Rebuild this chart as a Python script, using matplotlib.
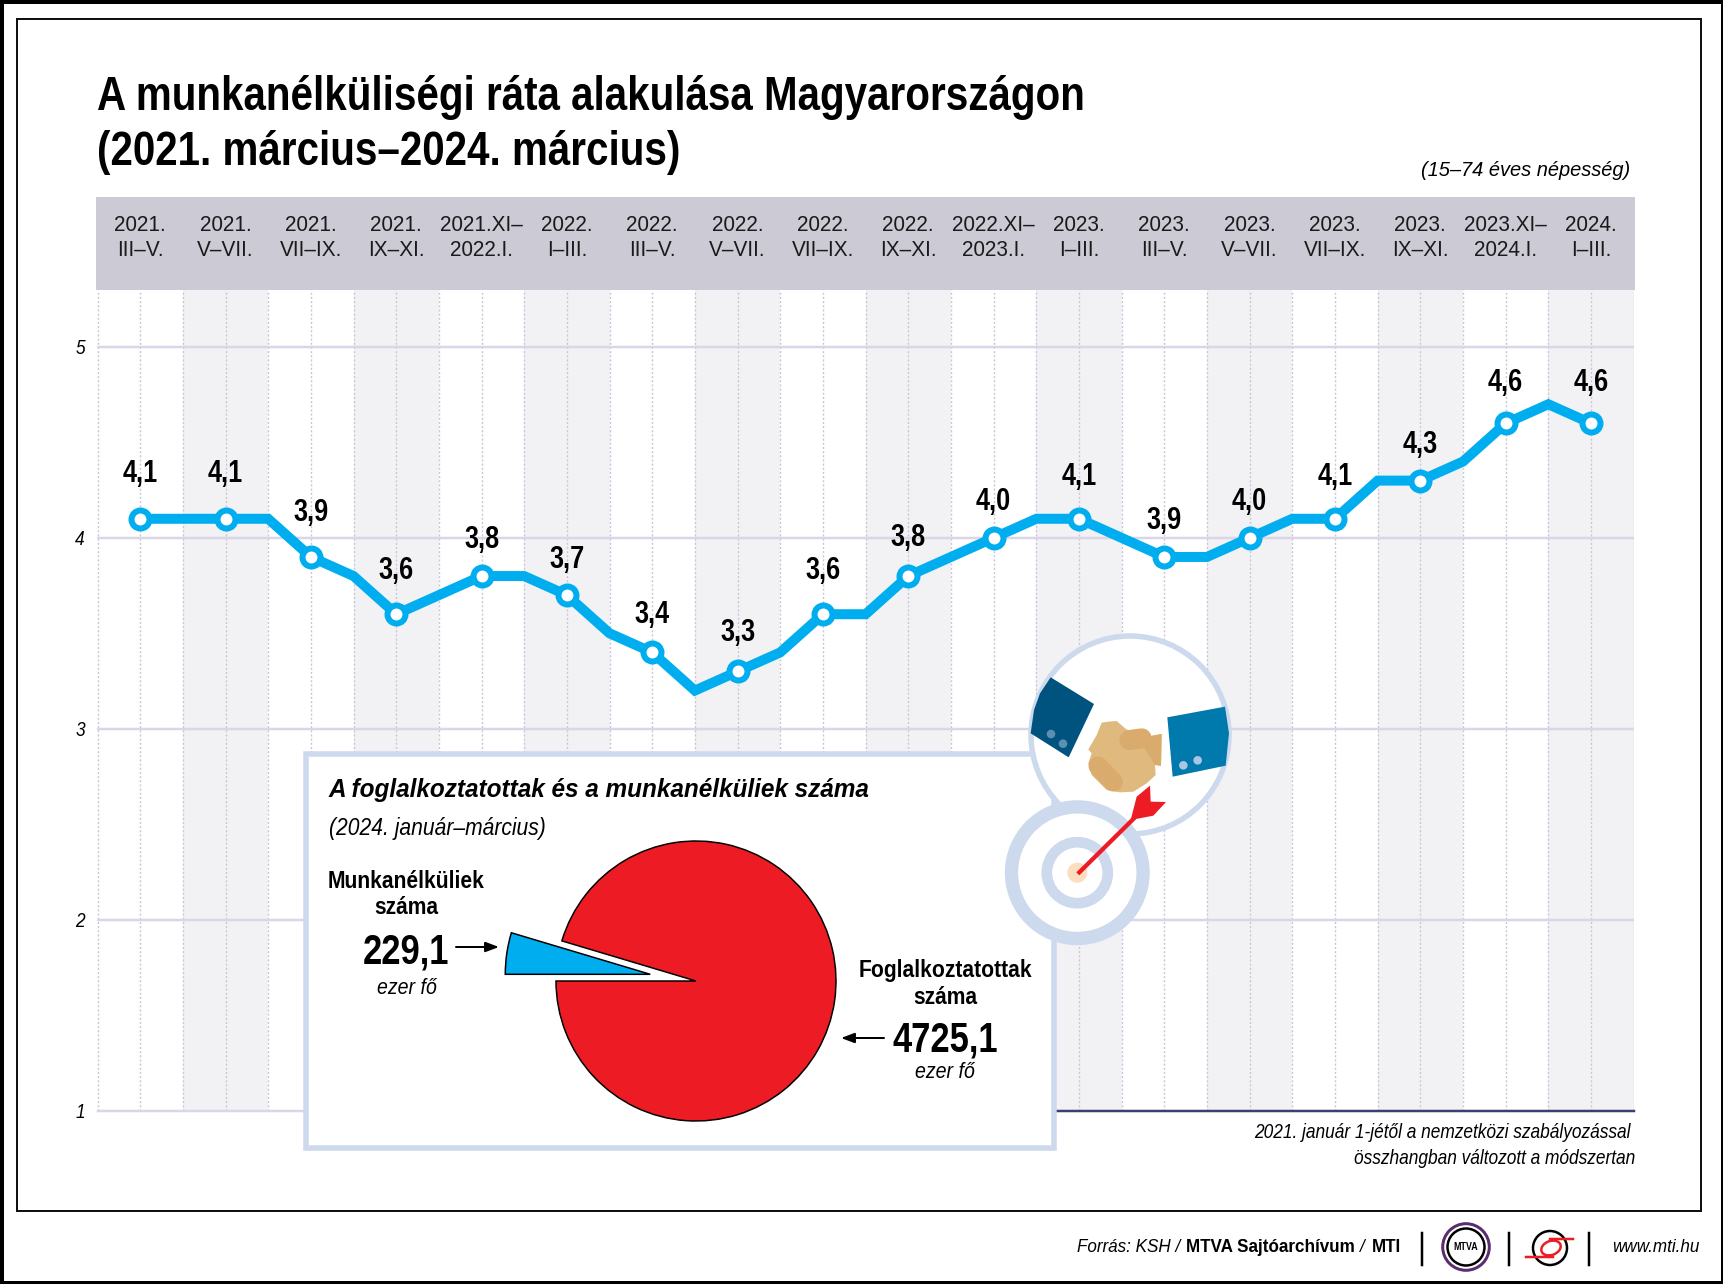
import os
import tempfile
import matplotlib
matplotlib.use('Agg')
import matplotlib.pyplot as plt
from matplotlib import font_manager as fm
from matplotlib.patches import Rectangle, Circle, Polygon, Ellipse
from fontTools.ttLib import TTFont
import numpy as np

# adatok
rate = [4.1, 4.1, 4.1, 4.1, 3.9, 3.8, 3.6, 3.7, 3.8, 3.8, 3.7, 3.5, 3.4, 3.2, 3.3, 3.4, 3.6, 3.6,
        3.8, 3.9, 4.0, 4.1, 4.1, 4.0, 3.9, 3.9, 4.0, 4.1, 4.1, 4.3, 4.3, 4.4, 4.6, 4.7, 4.6]
periods = ['2021.\nIII–V.', '2021.\nV–VII.', '2021.\nVII–IX.', '2021.\nIX–XI.', '2021.XI–\n2022.I.',
           '2022.\nI–III.', '2022.\nIII–V.', '2022.\nV–VII.', '2022.\nVII–IX.', '2022.\nIX–XI.',
           '2022.XI–\n2023.I.', '2023.\nI–III.', '2023.\nIII–V.', '2023.\nV–VII.', '2023.\nVII–IX.',
           '2023.\nIX–XI.', '2023.XI–\n2024.I.', '2024.\nI–III.']
period_rate = [4.1, 4.1, 3.9, 3.6, 3.8, 3.7, 3.4, 3.3, 3.6, 3.8, 4.0, 4.1, 3.9, 4.0, 4.1, 4.3, 4.6, 4.6]
yticks = [1, 2, 3, 4, 5]
pie_values = [229.1, 4725.1]
pie_labels = ['229,1', '4725,1']

W, H = 1724, 1284
C_LINE = '#00AEEF'
C_RED = '#ED1C24'
C_RING = '#CDD9EC'
C_GRID = '#DAD6E8'


# a Helvetica Narrow-hoz keskenyített Liberation Sans
def make_condensed(sx):
    family = f'CondSans{int(sx * 100)}'
    folder = tempfile.mkdtemp()
    for weight, style in [('normal', 'normal'), ('bold', 'normal'), ('normal', 'italic'), ('bold', 'italic')]:
        src = fm.findfont(fm.FontProperties(family='Liberation Sans', weight=weight, style=style))
        font = TTFont(src)
        glyf = font['glyf']
        for name in font.getGlyphOrder():
            g = glyf[name]
            if g.isComposite():
                for c in g.components:
                    c.x = round(c.x * sx)
            elif g.numberOfContours > 0:
                g.coordinates.scale((sx, 1))
                g.coordinates.toInt()
            adv, lsb = font['hmtx'][name]
            font['hmtx'][name] = (round(adv * sx), round(lsb * sx))
        if 'kern' in font:
            for table in font['kern'].kernTables:
                for k in table.kernTable:
                    table.kernTable[k] = round(table.kernTable[k] * sx)
        if 'hdmx' in font:
            del font['hdmx']
        for rec in font['name'].names:
            if rec.nameID in (1, 3, 4, 6, 16):
                s = rec.toUnicode().replace('Liberation Sans', family).replace('LiberationSans', family)
                rec.string = s
        path = os.path.join(folder, f'{family}-{weight}-{style}.ttf')
        font.save(path)
        fm.fontManager.addfont(path)
    return family


F83 = make_condensed(0.83)
F91 = make_condensed(0.91)
F96 = make_condensed(0.96)
plt.rcParams['font.family'] = [F91, 'Liberation Sans']


def px(v):
    return v * 0.72


def pos(x0, y0, x1, y1):
    return [x0 / W, 1 - y1 / H, (x1 - x0) / W, (y1 - y0) / H]


fig = plt.figure(figsize=(W / 100, H / 100), dpi=100, facecolor='white')

# vonaldiagram
ax = fig.add_axes(pos(97.5, 290, 1633.7, 1110.5), zorder=1)
ax.set_xlim(-1, 35)
ax.set_ylim(1, 5 + 57 / 190.9)
for s in ax.spines.values():
    s.set_visible(False)
ax.set_xticks([])
ax.set_yticks(yticks)
ax.set_yticklabels([str(t) for t in yticks], style='italic', fontsize=15, family=F83)
ax.tick_params(axis='y', length=0, pad=9)

for i in range(len(periods)):
    if i % 2 == 1:
        ax.axvspan(2 * i - 1, 2 * i + 1, color='#F2F2F5', lw=0, zorder=0)
for x in range(-1, 36):
    ax.axvline(x, color='#C9C6D9', lw=1, ls=(0, (1.5, 1.5)), zorder=1)
for t in yticks[1:]:
    ax.axhline(t, color=C_GRID, lw=px(2.5), zorder=2)
ax.plot([-1, 4], [1, 1], color=C_GRID, lw=px(2.5), zorder=2, clip_on=False)
ax.plot([20, 35], [1, 1], color='#3C4070', lw=px(2.5), zorder=2, clip_on=False)

xs = np.arange(len(rate))
ax.plot(xs, rate, color=C_LINE, lw=px(10), solid_joinstyle='miter', zorder=3)
ax.plot(xs[::2], rate[::2], ls='none', marker='o', ms=px(18), mfc='white', mec=C_LINE, mew=px(6), zorder=4)

label_dy = [45, 45, 44, 43, 36, 35, 37, 38, 43, 38, 36, 42, 36, 36, 42, 36, 40, 40]
for i, (v, dy) in enumerate(zip(period_rate, label_dy)):
    ax.annotate(f'{v:.1f}'.replace('.', ','), (2 * i, v), xytext=(0, px(dy)), textcoords='offset points',
                ha='center', va='center', fontsize=22, fontweight='bold', family=F83, zorder=5)

# rajzfelület pixelben
ov = fig.add_axes([0, 0, 1, 1], zorder=2)
ov.set_xlim(0, W)
ov.set_ylim(H, 0)
ov.axis('off')
ov.patch.set_alpha(0)

ov.add_patch(Rectangle((0, 0), W, H, fill=False, ec='black', lw=px(7)))
ov.add_patch(Rectangle((17, 19), 1684, 1192, fill=False, ec='#111111', lw=px(2)))
ov.add_patch(Rectangle((96.5, 197), 1538.5, 93, fc='#CBCAD5', ec='none'))

ov.text(97, 110, 'A munkanélküliségi ráta alakulása Magyarországon', fontsize=35, fontweight='bold',
        family=F83, va='baseline')
ov.text(97, 165, '(2021. március–2024. március)', fontsize=35, fontweight='bold', family=F83, va='baseline')
ov.text(1630, 170, '(15–74 éves népesség)', fontsize=15, style='italic', family=F96, ha='right', va='center')

for i, p in enumerate(periods):
    ov.text(97.5 + 42.67 * (2 * i + 1), 238, p, fontsize=15.6, family=F96, ha='center', va='center',
            linespacing=1.2, color='#1a1a1a')

ov.text(1631, 1133, '2021. január 1-jétől a nemzetközi szabályozással', fontsize=15, style='italic', family=F83,
        ha='right', va='center')
ov.text(1635, 1158, 'összhangban változott a módszertan', fontsize=15, style='italic', family=F83,
        ha='right', va='center')

# lábléc
ov.text(1077, 1247, 'Forrás: KSH /', fontsize=13.5, style='italic', family=F91, va='center')
ov.text(1186, 1247, 'MTVA Sajtóarchívum', fontsize=13.5, fontweight='bold', family=F91, va='center')
ov.text(1360, 1247, '/', fontsize=13.5, style='italic', family=F91, va='center')
ov.text(1372, 1247, 'MTI', fontsize=13.5, fontweight='bold', family=F91, va='center')
ov.text(1700, 1247, 'www.mti.hu', fontsize=13.5, style='italic', family=F91, ha='right', va='center')
for x in [1422, 1509, 1589]:
    ov.plot([x, x], [1233, 1265], color='black', lw=px(2.5))
ov.add_patch(Circle((1466, 1247), 23.3, fc='white', ec='#5B2C6F', lw=px(3)))
ov.add_patch(Circle((1466, 1247), 18.5, fc='white', ec='black', lw=px(2.5)))
ov.text(1466, 1247, 'MTVA', fontsize=7, fontweight='bold', family=F91, ha='center', va='center')
ov.add_patch(Ellipse((1551, 1248), 20, 14, angle=-20, fc='none', ec=C_RED, lw=px(2.5)))
ov.plot([1550, 1573], [1239, 1239], color=C_RED, lw=px(2.5))
ov.plot([1526, 1553], [1257, 1257], color=C_RED, lw=px(2.5))
ov.add_patch(Circle((1550, 1248), 17, fc='none', ec='black', lw=px(2.5)))

# betét
ov.add_patch(Rectangle((306, 754), 748, 394, fc='white', ec=C_RING, lw=px(5.5)))
ov.text(329, 790, 'A foglalkoztatottak és a munkanélküliek száma', fontsize=18.3, fontweight='bold', style='italic',
        family=F96, va='center')
ov.text(329, 828, '(2024. január–március)', fontsize=16.7, style='italic', family=F91, va='center')
ov.text(406, 882, 'Munkanélküliek', fontsize=16.7, fontweight='bold', ha='center', va='center')
ov.text(406, 907, 'száma', fontsize=16.7, fontweight='bold', ha='center', va='center')
ov.text(406, 953, pie_labels[0], fontsize=30, fontweight='bold', family=F83, ha='center', va='center')
ov.text(407, 989, 'ezer fő', fontsize=15.5, style='italic', ha='center', va='center')
ov.text(945, 971, 'Foglalkoztatottak', fontsize=16.7, fontweight='bold', ha='center', va='center')
ov.text(945, 997, 'száma', fontsize=16.7, fontweight='bold', ha='center', va='center')
ov.text(945, 1041, pie_labels[1], fontsize=30, fontweight='bold', family=F83, ha='center', va='center')
ov.text(945, 1073, 'ezer fő', fontsize=15.5, style='italic', ha='center', va='center')
arrow = dict(arrowstyle='-|>,head_width=0.3,head_length=0.8', color='black', lw=px(2), shrinkA=0, shrinkB=0)
ov.annotate('', xy=(499, 947), xytext=(456, 947), arrowprops=arrow)
ov.annotate('', xy=(841, 1038), xytext=(884, 1038), arrowprops=arrow)


# kézfogás ikon (a koordináták a kivágat szerint)
def ic(points):
    return [(960 + a / 3, 620 + b / 3) for a, b in points]


ov.add_patch(Circle((1130, 735), 99, fc='white', ec=C_RING, lw=px(5.5)))
ov.add_patch(Polygon(ic([(272, 172), (402, 252), (326, 412), (212, 340), (222, 270), (240, 220)]), fc='#00527F', ec='none'))
for c in ic([(273, 342), (309, 371)]):
    ov.add_patch(Circle(c, 4.3, fc='#5C8FB3', ec='none'))
ov.add_patch(Polygon(ic([(622, 292), (795, 260), (807, 340), (797, 437), (638, 470)]), fc='#0079AC', ec='none'))
for c in ic([(670, 436), (713, 421)]):
    ov.add_patch(Circle(c, 4.3, fc='#A9C4E4', ec='none'))
ov.add_patch(Polygon(ic([(425, 308), (445, 305), (470, 303), (495, 325), (520, 340), (565, 350), (605, 342), (603, 437),
                         (585, 435), (587, 465), (560, 490), (520, 515), (480, 517), (440, 510), (395, 465), (385, 430),
                         (395, 400), (385, 388), (410, 345)]), fc='#E0B97F', ec='none'))
ov.add_patch(Polygon(ic([(570, 348), (605, 342), (603, 437), (585, 435), (550, 380)]), fc='#D9AB6C', ec='none'))
t = np.array(ic([(508, 360), (545, 355)]))
ov.plot(t[:, 0], t[:, 1], color='#D9AB6C', lw=px(20), solid_capstyle='round')
t = np.array(ic([(414, 438), (460, 486)]))
ov.plot(t[:, 0], t[:, 1], color='#D9AB6C', lw=px(19), solid_capstyle='round')

# céltábla
tc = (1077.3, 872.7)
ov.add_patch(Circle(tc, 65.8, fc='white', ec=C_RING, lw=px(13.3)))
ov.add_patch(Circle(tc, 30.5, fc='white', ec=C_RING, lw=px(10.7)))
ov.add_patch(Circle(tc, 10, fc='#FBDDBF', ec='none'))
t = np.array(ic([(358, 757), (520, 597)]))
ov.plot(t[:, 0], t[:, 1], color=C_RED, lw=px(4.3))
ov.add_patch(Polygon(ic([(512, 600), (530, 530), (570, 497), (572, 545), (618, 546), (580, 587)]), fc=C_RED, ec='none'))

# kördiagram
R, H_AX = 140, 200
pa = fig.add_axes(pos(696 - H_AX, 981 - H_AX, 696 + H_AX, 981 + H_AX), zorder=3)
wedges, _ = pa.pie(pie_values, colors=[C_LINE, C_RED], startangle=180, counterclock=False, explode=[0.33, 0],
                   wedgeprops=dict(edgecolor='black', linewidth=px(1.5)))
wedges[0].set_radius(145 / R)
pa.set_xlim(-H_AX / R, H_AX / R)
pa.set_ylim(-H_AX / R, H_AX / R)
pa.patch.set_alpha(0)

fig.savefig('out.png', dpi=100)
